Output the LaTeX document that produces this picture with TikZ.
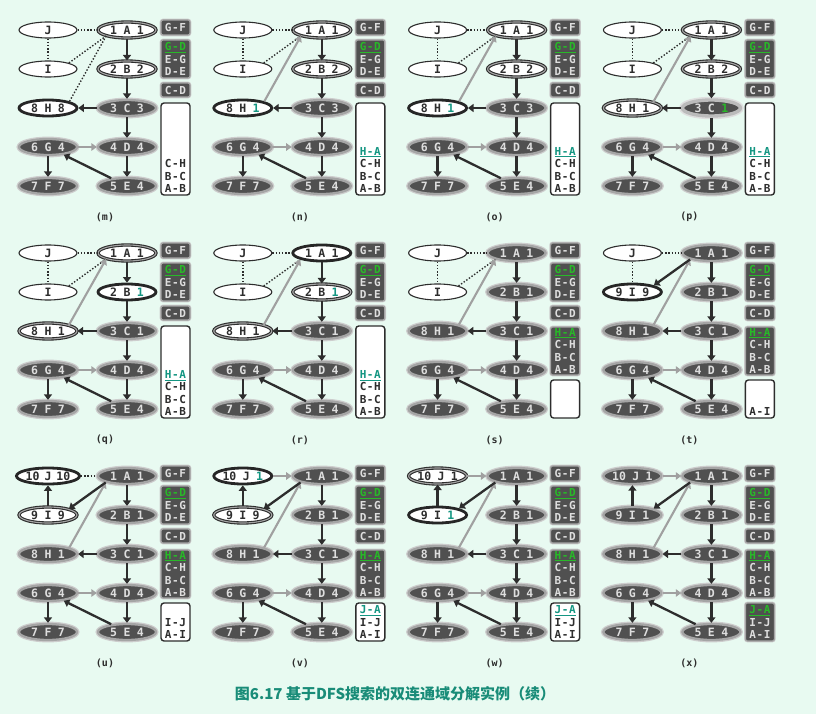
\documentclass[tikz,border=0pt]{standalone}
\usepackage{fontspec}
\setmainfont{DejaVu Sans Mono}
\newfontfamily\cjkfont{Noto Sans CJK SC}
\usetikzlibrary{arrows.meta,shapes.geometric}
\definecolor{bgc}{RGB}{232,250,241}
\definecolor{dfill}{RGB}{80,80,80}
\definecolor{glow}{RGB}{165,165,165}
\definecolor{tlight}{RGB}{222,222,222}
\definecolor{tdark}{RGB}{45,45,45}
\definecolor{edark}{RGB}{45,45,45}
\definecolor{egray}{RGB}{160,160,160}
\definecolor{grn}{RGB}{40,185,40}
\definecolor{tealc}{RGB}{20,150,130}
\definecolor{capc}{RGB}{25,140,120}
\newcommand\nt[3]{#1\hspace{6.4pt}#2\hspace{6.4pt}#3}
\newcommand\tlc[1]{\textcolor{tealc}{#1}}
\newcommand\grc[1]{\textcolor{grn}{#1}}
\newcommand\bx[3]{#1\kern0.6pt#2\kern0.6pt#3}
\newcommand\hlg[1]{\textcolor{grn}{\underline{#1}}}
\newcommand\hlt[1]{\textcolor{tealc}{\underline{#1}}}
\tikzset{
  nd/.style={ellipse, minimum width=58pt, minimum height=16pt, inner sep=0pt, font=\fontsize{11.5}{13}\selectfont\bfseries},
  U/.style={nd, draw=edark, line width=1.1pt, fill=white, text=tdark},
  S/.style={nd, draw=edark, line width=1.1pt, double=glow, double distance=1.1pt, fill=white, text=tdark},
  C/.style={nd, draw=black!85, line width=2.8pt, fill=white, text=tdark},
  D/.style={nd, preaction={draw=glow!55, line width=4.8pt}, draw=glow, line width=2.3pt, fill=dfill, text=tlight},
  DH/.style={nd, preaction={draw=glow!35, line width=6.5pt}, draw=glow!75, line width=3.4pt, fill=dfill, text=tlight},
  tree/.style={draw=edark, line width=2.3pt, -{Triangle[length=5.5pt,width=8pt]}},
  back/.style={draw=egray, line width=2.1pt, -{Triangle[length=5.5pt,width=7.5pt]}},
  dot/.style={draw=edark, line width=1.4pt, dash pattern=on 1.4pt off 1.8pt},
  dbox/.style={rectangle, rounded corners=2pt, preaction={draw=glow!55, line width=2.6pt}, fill=dfill, draw=glow, line width=1.2pt, minimum width=29pt, inner sep=0pt, text=tlight, align=center, font=\fontsize{11}{12.5}\selectfont\bfseries},
  wbox/.style={rectangle, rounded corners=3pt, fill=white, draw=edark, line width=1.4pt, minimum width=29pt, inner sep=0pt},
  btext/.style={align=center, inner sep=0pt, text=tdark, font=\fontsize{11}{12.5}\selectfont\bfseries},
  lbl/.style={inner sep=0pt, text=tdark, font=\fontsize{10}{12}\selectfont\bfseries}
}
\newcommand\Pnl[4]{\begin{scope}[shift={(#1,#2)}, name prefix=#3-]#4\node[lbl] (lab) at (57,187) {(#3)};\end{scope}}
\newcommand\fixednodes{%
  \node[D] (D) at (79,117) {\nt4D4};
  \node[D] (E) at (79,156) {\nt5E4};
  \node[D] (G) at (0,117) {\nt6G4};
  \node[D] (F) at (0,156) {\nt7F7};}
\newcommand\cedges{%
  \draw[tree] (A)--(B); \draw[tree] (B)--(C); \draw[tree] (C)--(D); \draw[tree] (D)--(E);
  \draw[tree] (C)--(H); \draw[tree] (G)--(F); \draw[tree] (E)--(G); \draw[back] (G)--(D);}
\newcommand\boxestop{%
  \node[dbox, minimum height=15pt] (b1) at (127.5,-2.5) {\bx G-F};
  \node[dbox, minimum height=38pt] (b2) at (127.5,29) {\hlg{\bx G-D}\\\bx E-G\\\bx D-E};
  \node[dbox, minimum height=14pt] (b3) at (127.5,60) {\bx C-D};}
\newcommand\boxtall[1]{%
  \node[wbox, minimum height=92pt] (b4) at (127.5,119) {};
  \node[btext, anchor=south] (b4t) at (127.5,163) {#1};}
\newcommand\boxHA{\node[dbox, minimum height=48pt] (b4) at (127.5,98) {\hlg{\bx H-A}\\\bx C-H\\\bx B-C\\\bx A-B};}
\newcommand\boxfive[1]{%
  \node[wbox, minimum height=38pt] (b5) at (127.5,146) {};
  \node[btext, anchor=south] (b5t) at (127.5,163) {#1};}
\newcommand\boxfiveempty{\node[wbox, minimum height=38pt] (b5) at (127.5,146) {};}
\newcommand\eHback{\draw[dot] (J)--(A); \draw[dot] (J)--(I); \draw[dot] (I.north east)--(A.south west); \draw[back] (H.north east)--(A.south west);}
\begin{document}
\begin{tikzpicture}[x=1pt,y=-1pt]
\fill[bgc] (0,0) rectangle (816,714);
\useasboundingbox (0,0) rectangle (816,714);
% (m)
\Pnl{48}{30}{m}{%
  \node[U] (J) at (0,0) {J}; \node[U] (I) at (0,39) {I}; \node[C] (H) at (0,78) {\nt8H8};
  \node[S] (A) at (79,0) {\nt1A1}; \node[S] (B) at (79,39) {\nt2B2}; \node[D] (C) at (79,78) {\nt3C3};
  \fixednodes\cedges
  \draw[dot] (J)--(A); \draw[dot] (J)--(I); \draw[dot] (I.north east)--(A.south west); \draw[dot] (H.north east)--(A.south west);
  \boxestop\boxtall{\bx C-H\\\bx B-C\\\bx A-B}}
% (n)
\Pnl{242.8}{30}{n}{%
  \node[U] (J) at (0,0) {J}; \node[U] (I) at (0,39) {I}; \node[C] (H) at (0,78) {\nt8H{\tlc1}};
  \node[S] (A) at (79,0) {\nt1A1}; \node[S] (B) at (79,39) {\nt2B2}; \node[D] (C) at (79,78) {\nt3C3};
  \fixednodes\cedges\eHback
  \boxestop\boxtall{\hlt{\bx H-A}\\\bx C-H\\\bx B-C\\\bx A-B}}
% (o)
\Pnl{437.6}{30}{o}{%
  \node[U] (J) at (0,0) {J}; \node[U] (I) at (0,39) {I}; \node[C] (H) at (0,78) {\nt8H{\tlc1}};
  \node[S] (A) at (79,0) {\nt1A1}; \node[S] (B) at (79,39) {\nt2B2}; \node[D] (C) at (79,78) {\nt3C3};
  \fixednodes\cedges\eHback
  \boxestop\boxtall{\hlt{\bx H-A}\\\bx C-H\\\bx B-C\\\bx A-B}}
% (p)
\Pnl{632.4}{30}{p}{%
  \node[U] (J) at (0,0) {J}; \node[U] (I) at (0,39) {I}; \node[S] (H) at (0,78) {\nt8H1};
  \node[S] (A) at (79,0) {\nt1A1}; \node[S] (B) at (79,39) {\nt2B2}; \node[DH] (C) at (79,78) {\nt3C{\grc1}};
  \fixednodes\cedges\eHback
  \boxestop\boxtall{\hlt{\bx H-A}\\\bx C-H\\\bx B-C\\\bx A-B}}
% (q)
\Pnl{48}{253}{q}{%
  \node[U] (J) at (0,0) {J}; \node[U] (I) at (0,39) {I}; \node[S] (H) at (0,78) {\nt8H1};
  \node[S] (A) at (79,0) {\nt1A1}; \node[C] (B) at (79,39) {\nt2B{\tlc1}}; \node[D] (C) at (79,78) {\nt3C1};
  \fixednodes\cedges\eHback
  \boxestop\boxtall{\hlt{\bx H-A}\\\bx C-H\\\bx B-C\\\bx A-B}}
% (r)
\Pnl{242.8}{253}{r}{%
  \node[U] (J) at (0,0) {J}; \node[U] (I) at (0,39) {I}; \node[S] (H) at (0,78) {\nt8H1};
  \node[C] (A) at (79,0) {\nt1A1}; \node[S] (B) at (79,39) {\nt2B{\tlc1}}; \node[D] (C) at (79,78) {\nt3C1};
  \fixednodes\cedges\eHback
  \boxestop\boxtall{\hlt{\bx H-A}\\\bx C-H\\\bx B-C\\\bx A-B}}
% (s)
\Pnl{437.6}{253}{s}{%
  \node[U] (J) at (0,0) {J}; \node[U] (I) at (0,39) {I}; \node[D] (H) at (0,78) {\nt8H1};
  \node[D] (A) at (79,0) {\nt1A1}; \node[D] (B) at (79,39) {\nt2B1}; \node[D] (C) at (79,78) {\nt3C1};
  \fixednodes\cedges\eHback
  \boxestop\boxHA\boxfiveempty}
% (t)
\Pnl{632.4}{253}{t}{%
  \node[U] (J) at (0,0) {J}; \node[C] (I) at (0,39) {\nt9I9}; \node[D] (H) at (0,78) {\nt8H1};
  \node[D] (A) at (79,0) {\nt1A1}; \node[D] (B) at (79,39) {\nt2B1}; \node[D] (C) at (79,78) {\nt3C1};
  \fixednodes\cedges
  \draw[dot] (J)--(A); \draw[dot] (J)--(I); \draw[back] (H.north east)--(A.south west); \draw[tree] (A.south west)--(I.north east);
  \boxestop\boxHA\boxfive{\bx A-I}}
% (u)
\Pnl{48}{476}{u}{%
  \node[C] (J) at (0,0) {10\hspace{5pt}J\hspace{5pt}10}; \node[S] (I) at (0,39) {\nt9I9}; \node[D] (H) at (0,78) {\nt8H1};
  \node[D] (A) at (79,0) {\nt1A1}; \node[D] (B) at (79,39) {\nt2B1}; \node[D] (C) at (79,78) {\nt3C1};
  \fixednodes\cedges
  \draw[dot] (J)--(A); \draw[back] (H.north east)--(A.south west); \draw[tree] (A.south west)--(I.north east); \draw[tree] (I)--(J);
  \boxestop\boxHA\boxfive{\bx I-J\\\bx A-I}}
% (v)
\Pnl{242.8}{476}{v}{%
  \node[C] (J) at (0,0) {\nt{10}J{\tlc1}}; \node[S] (I) at (0,39) {\nt9I9}; \node[D] (H) at (0,78) {\nt8H1};
  \node[D] (A) at (79,0) {\nt1A1}; \node[D] (B) at (79,39) {\nt2B1}; \node[D] (C) at (79,78) {\nt3C1};
  \fixednodes\cedges
  \draw[back] (J)--(A); \draw[back] (H.north east)--(A.south west); \draw[tree] (A.south west)--(I.north east); \draw[tree] (I)--(J);
  \boxestop\boxHA\boxfive{\hlt{\bx J-A}\\\bx I-J\\\bx A-I}}
% (w)
\Pnl{437.6}{476}{w}{%
  \node[S] (J) at (0,0) {\nt{10}J1}; \node[C] (I) at (0,39) {\nt9I{\tlc1}}; \node[D] (H) at (0,78) {\nt8H1};
  \node[D] (A) at (79,0) {\nt1A1}; \node[D] (B) at (79,39) {\nt2B1}; \node[D] (C) at (79,78) {\nt3C1};
  \fixednodes\cedges
  \draw[back] (J)--(A); \draw[back] (H.north east)--(A.south west); \draw[tree] (A.south west)--(I.north east); \draw[tree] (I)--(J);
  \boxestop\boxHA\boxfive{\hlt{\bx J-A}\\\bx I-J\\\bx A-I}}
% (x)
\Pnl{632.4}{476}{x}{%
  \node[D] (J) at (0,0) {\nt{10}J1}; \node[D] (I) at (0,39) {\nt9I1}; \node[D] (H) at (0,78) {\nt8H1};
  \node[D] (A) at (79,0) {\nt1A1}; \node[D] (B) at (79,39) {\nt2B1}; \node[D] (C) at (79,78) {\nt3C1};
  \fixednodes\cedges
  \draw[back] (J)--(A); \draw[back] (H.north east)--(A.south west); \draw[tree] (A.south west)--(I.north east); \draw[tree] (I)--(J);
  \boxestop\boxHA
  \node[dbox, minimum height=38pt] (b5) at (127.5,146) {\hlg{\bx J-A}\\\bx I-J\\\bx A-I};}
\node[font=\cjkfont\bfseries\fontsize{15}{18}\selectfont, text=capc, inner sep=0pt] (cap) at (395,694) {图6.17 基于DFS搜索的双连通域分解实例（续）};
\end{tikzpicture}
\end{document}
